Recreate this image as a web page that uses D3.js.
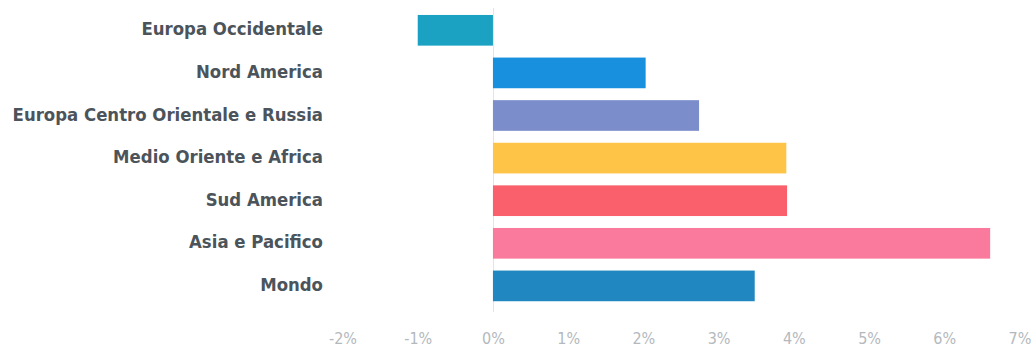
<!DOCTYPE html>
<html><head><meta charset="utf-8">
<script src="https://cdn.jsdelivr.net/npm/d3@7/dist/d3.min.js"></script>
<style>html,body{margin:0;padding:0;background:#fff;}svg{display:block;}</style>
</head><body>
<script>
const categories = ["Europa Occidentale","Nord America","Europa Centro Orientale e Russia","Medio Oriente e Africa","Sud America","Asia e Pacifico","Mondo"];
const values = [-1.0, 2.03, 2.74, 3.9, 3.91, 6.61, 3.48];
const colors = ["#1ba1c1","#1990de","#7b8ecb","#fdc447","#f9606b","#f97a9c","#2087c0"];
const tickValues = [-2,-1,0,1,2,3,4,5,6,7];
const tickLabels = ["-2%","-1%","0%","1%","2%","3%","4%","5%","6%","7%"];

const W = 1032, H = 354;
const svg = d3.select("body").append("svg").attr("width", W).attr("height", H);

const x = d3.scaleLinear().domain([-2, 7]).range([342.5, 1019.5]);
const y = d3.scaleBand().domain(categories).range([9, 307.2]).paddingInner(0.28).paddingOuter(0.14);

// zero line
svg.append("line")
  .attr("x1", Math.round(x(0)) + 0.5).attr("x2", Math.round(x(0)) + 0.5)
  .attr("y1", 8).attr("y2", 312)
  .attr("stroke", "#e2e4e6").attr("stroke-width", 1);

svg.selectAll("rect.bar").data(categories).join("rect")
  .attr("class", "bar")
  .attr("x", (d,i) => x(Math.min(0, values[i])))
  .attr("width", (d,i) => Math.abs(x(values[i]) - x(0)))
  .attr("y", d => y(d))
  .attr("height", y.bandwidth())
  .attr("fill", (d,i) => colors[i]);

// category labels
svg.selectAll("text.cat").data(categories).join("text")
  .attr("class", "cat")
  .attr("x", 323)
  .attr("y", d => y(d) + y.bandwidth()/2 + 5)
  .attr("text-anchor", "end")
  .attr("font-family", "'Liberation Sans Narrow', 'DejaVu Sans Condensed', sans-serif")
  .attr("font-stretch", "condensed")
  .attr("font-weight", "bold")
  .attr("font-size", 18.4)
  .attr("fill", "#4c545b")
  .text(d => d);

// x axis
const axis = d3.axisBottom(x).tickValues(tickValues)
  .tickFormat((d,i) => tickLabels[i]).tickSize(0).tickPadding(0);
const g = svg.append("g").attr("transform", "translate(0,333)").call(axis);
g.select(".domain").remove();
g.selectAll("text")
  .attr("dy", "0.71em")
  .attr("font-family", "'Liberation Sans Narrow', 'DejaVu Sans Condensed', sans-serif")
  .attr("font-stretch", "condensed")
  .attr("font-size", 16)
  .attr("fill", "#b4b9be");
</script>
</body></html>
